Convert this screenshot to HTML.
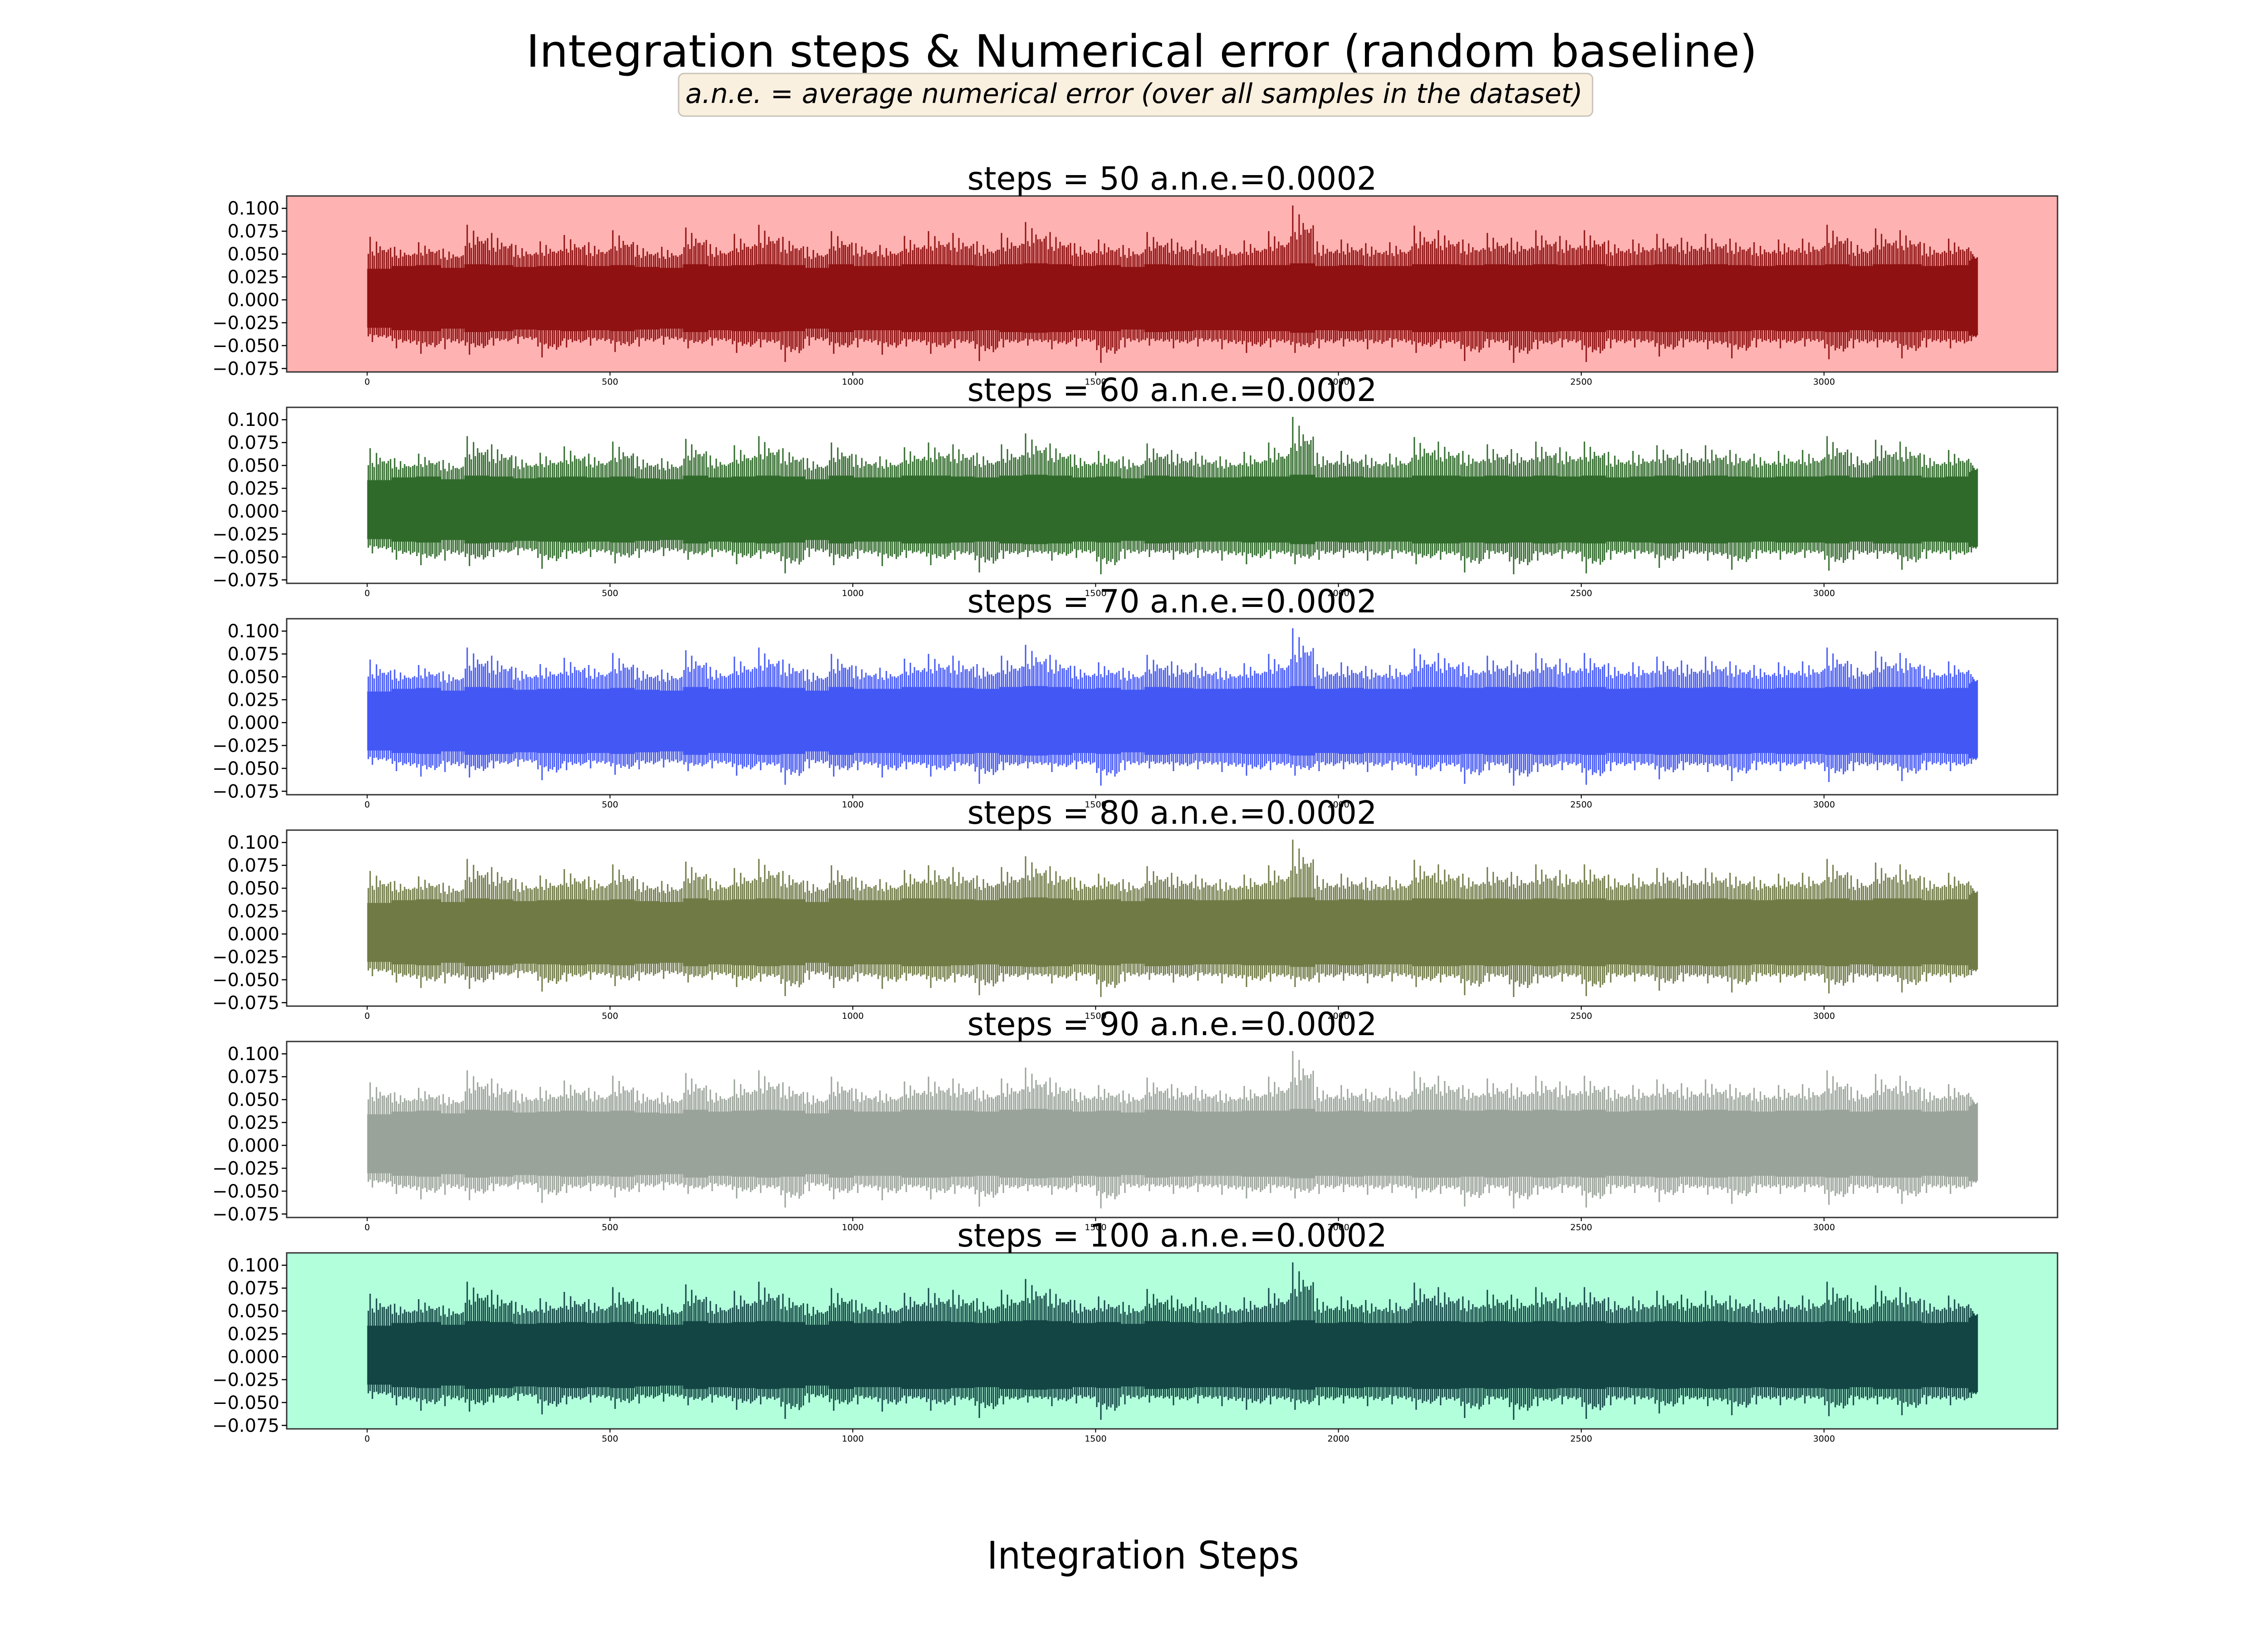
<!DOCTYPE html>
<html><head><meta charset="utf-8"><style>
html,body{margin:0;padding:0;background:#fff}
svg{display:block;font-family:"DejaVu Sans","Liberation Sans",sans-serif}
</style></head><body>
<svg id="chart" width="5040" height="3600" viewBox="0 0 5040 3600" xmlns="http://www.w3.org/2000/svg">
<rect width="5040" height="3600" fill="#fff"/>
<text x="1160" y="147" font-size="98" textLength="2714" lengthAdjust="spacingAndGlyphs">Integration steps &amp; Numerical error (random baseline)</text>
<g>
<rect x="1496" y="162" width="2015" height="94" rx="12" fill="#faf0e0" stroke="#c9c3b8" stroke-width="3"/>
<text x="1511" y="227" font-size="60" font-style="italic" textLength="1978" lengthAdjust="spacingAndGlyphs">a.n.e. = average numerical error (over all samples in the dataset)</text>
</g>
<text x="2176" y="3458" font-size="84" textLength="688" lengthAdjust="spacingAndGlyphs">Integration Steps</text>
<g id="panels"></g>
</svg>
<script>
const steps = [50, 60, 70, 80, 90, 100];
const ane = ["0.0002","0.0002","0.0002","0.0002","0.0002","0.0002"];
const yTicks = [0.100, 0.075, 0.050, 0.025, 0.000, -0.025, -0.050, -0.075];
const yTickLabels = ["0.100","0.075","0.050","0.025","0.000","\u22120.025","\u22120.050","\u22120.075"];
const xTicks = [0, 500, 1000, 1500, 2000, 2500, 3000];
const binSize = 50;
const nSamples = 3316;
const binHi = [0.069,0.058,0.063,0.056,0.082,0.073,0.060,0.064,0.071,0.063,0.076,0.060,0.058,0.079,0.061,0.072,0.082,0.069,0.058,0.075,0.062,0.060,0.070,0.075,0.073,0.064,0.073,0.085,0.074,0.062,0.066,0.060,0.074,0.067,0.065,0.060,0.065,0.075,0.103,0.064,0.066,0.062,0.063,0.081,0.076,0.066,0.073,0.068,0.076,0.070,0.076,0.065,0.066,0.072,0.068,0.072,0.067,0.063,0.066,0.067,0.082,0.064,0.078,0.076,0.062,0.067,0.053];
const binLo = [-0.046,-0.053,-0.059,-0.054,-0.060,-0.050,-0.048,-0.063,-0.052,-0.050,-0.057,-0.051,-0.049,-0.053,-0.050,-0.058,-0.052,-0.068,-0.050,-0.059,-0.052,-0.060,-0.051,-0.059,-0.053,-0.067,-0.052,-0.050,-0.054,-0.051,-0.069,-0.052,-0.050,-0.053,-0.051,-0.054,-0.058,-0.052,-0.058,-0.053,-0.051,-0.054,-0.052,-0.058,-0.053,-0.067,-0.052,-0.069,-0.054,-0.052,-0.068,-0.053,-0.052,-0.062,-0.052,-0.054,-0.064,-0.052,-0.053,-0.051,-0.065,-0.053,-0.052,-0.064,-0.052,-0.053,-0.045];
const binBand = [0.034,0.037,0.038,0.035,0.039,0.038,0.036,0.037,0.038,0.037,0.038,0.036,0.035,0.039,0.037,0.038,0.039,0.038,0.035,0.039,0.037,0.037,0.039,0.039,0.038,0.037,0.039,0.040,0.039,0.037,0.038,0.036,0.039,0.038,0.037,0.037,0.038,0.038,0.040,0.037,0.038,0.037,0.037,0.039,0.039,0.038,0.039,0.038,0.039,0.038,0.039,0.037,0.038,0.039,0.038,0.039,0.038,0.037,0.038,0.038,0.039,0.037,0.039,0.039,0.037,0.038,0.034];
const bgColors = ["#ffb2b2","#ffffff","#ffffff","#ffffff","#ffffff","#b2ffdc"];
const lineColors = ["#8f1111","#2f6a2a","#4357f5","#6f7a45","#9aa39a","#134545"];

const NS="http://www.w3.org/2000/svg";
const L=632, R=4536, H=388, TOP0=432, GAP=466;
const xMin=-165.8, xMax=3480.8, yMin=-0.0788, yMax=0.1135;
const spikeF=[0.62,1.0,0.72,0.55,0.85,0.66,0.93,0.58,0.78,0.7,0.6,0.88];
const spikeG=[0.8,0.6,1.0,0.7,0.65,0.9,0.58,0.82,0.68,0.95,0.62,0.75];
function xs(v){return L+(v-xMin)/(xMax-xMin)*(R-L);}
function mk(tag,attrs,parent){const e=document.createElementNS(NS,tag);for(const k in attrs)e.setAttribute(k,attrs[k]);parent.appendChild(e);return e;}
const root=document.getElementById('panels');
steps.forEach((s,p)=>{
  const top=TOP0+p*GAP;
  const ys=v=>top+(yMax-v)/(yMax-yMin)*H;
  const g=mk('g',{},root);
  
  
  const bg=mk('rect',{x:L,y:top,width:R-L,height:H,fill:bgColors[p]},g);
  
  
  const series=mk('g',{fill:lineColors[p],stroke:lineColors[p],'shape-rendering':'crispEdges'},g);
  
  
  binHi.forEach((hi,i)=>{
    const x0=i*binSize, x1=Math.min((i+1)*binSize,nSamples);
    const px0=xs(x0), px1=xs(x1), w=px1-px0;
    const band=binBand[i], lo=binLo[i];
    const r=mk('rect',{x:px0,y:ys(band),width:w+0.5,height:ys(-band*0.9)-ys(band),stroke:'none'},series);
    
    
    const n=spikeF.length;
    for(let k=0;k<n;k++){
      const fx=Math.round(px0+w*(k+0.5)/n);
      const a=band+(hi-band)*spikeF[k]*(k%3===1?1:0.75);
      const b=-band*0.9+(lo+band*0.9)*spikeG[k]*(k%4===2?1:0.75);
      const l=mk('line',{x1:fx,x2:fx,y1:ys(a),y2:ys(b),'stroke-width':3},series);
      
      
    }
  });
  const frame=mk('rect',{x:L,y:top,width:R-L,height:H,fill:'none',stroke:'#333','stroke-width':3},g);
  
  
  yTicks.forEach((v,i)=>{
    mk('line',{x1:L-11,x2:L,y1:ys(v),y2:ys(v),stroke:'#000','stroke-width':2.5},g);
    const t=mk('text',{x:L-16,y:ys(v)+14,'font-size':40,'text-anchor':'end'},g);
    t.textContent=yTickLabels[i];
    
    
  });
  xTicks.forEach(v=>{
    mk('line',{x1:xs(v),x2:xs(v),y1:top+H,y2:top+H+8,stroke:'#000','stroke-width':2},g);
    const t=mk('text',{x:xs(v),y:top+H+28,'font-size':19,'text-anchor':'middle'},g);
    t.textContent=String(v);
    
    
  });
  const title=mk('text',{x:(L+R)/2,y:top-14,'font-size':70,'text-anchor':'middle'},g);
  title.textContent='steps = '+s+' a.n.e.='+ane[p];
  
  
});
</script>
</body></html>
